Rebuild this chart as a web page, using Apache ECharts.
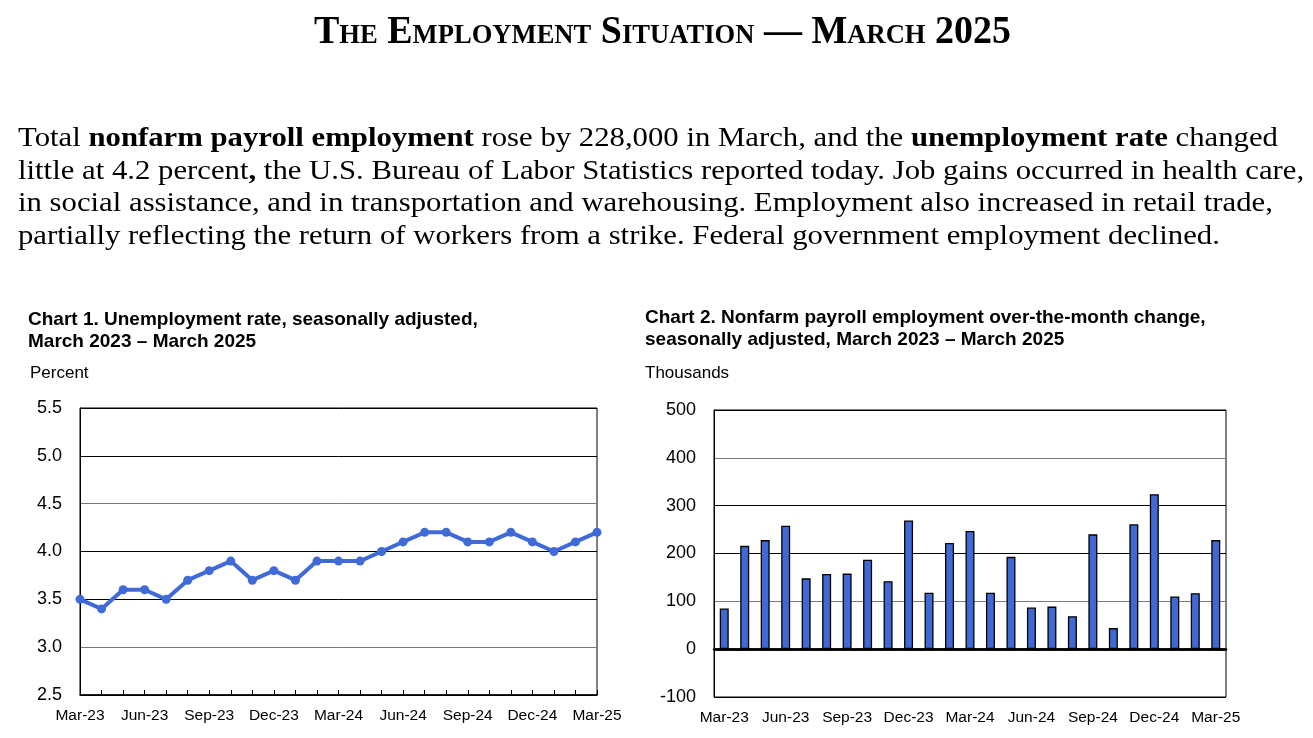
<!DOCTYPE html>
<html><head><meta charset="utf-8">
<script src="https://cdn.jsdelivr.net/npm/echarts@6/dist/echarts.min.js"></script>
<style>
html,body{margin:0;padding:0;background:#fff;width:1313px;height:738px;overflow:hidden;}
#head{position:absolute;left:0;top:0;white-space:nowrap;font-family:"Liberation Serif","Times New Roman",serif;font-weight:bold;font-variant:small-caps;font-size:40px;line-height:40px;transform-origin:0 0;color:#000;}
#para{position:absolute;left:18px;top:121px;font-family:"Liberation Serif","Times New Roman",serif;font-size:28px;line-height:32.6px;color:#000;white-space:nowrap;transform-origin:0 0;}
#chart{position:absolute;left:0;top:0;width:1313px;height:738px;}
</style></head>
<body>
<div id="chart"></div>
<div id="head">The Employment Situation — March 2025</div>
<div id="para"><span id="l1">Total <b>nonfarm payroll employment</b> rose by 228,000 in March, and the <b>unemployment rate</b> changed</span><br>little at 4.2 percent<b>,</b> the U.S. Bureau of Labor Statistics reported today. Job gains occurred in health care,<br>in social assistance, and in transportation and warehousing. Employment also increased in retail trade,<br>partially reflecting the return of workers from a strike. Federal government employment declined.</div>
<script>
const months = ['Mar-23','Apr-23','May-23','Jun-23','Jul-23','Aug-23','Sep-23','Oct-23','Nov-23','Dec-23','Jan-24','Feb-24','Mar-24','Apr-24','May-24','Jun-24','Jul-24','Aug-24','Sep-24','Oct-24','Nov-24','Dec-24','Jan-25','Feb-25','Mar-25'];
const unemploymentRate = [3.5,3.4,3.6,3.6,3.5,3.7,3.8,3.9,3.7,3.8,3.7,3.9,3.9,3.9,4.0,4.1,4.2,4.2,4.1,4.1,4.2,4.1,4.0,4.1,4.2];
const payrollChange = [85,216,228,258,148,157,158,187,142,269,118,222,247,118,193,87,89,69,240,44,261,324,110,117,228];
const rateTicks = [2.5,3.0,3.5,4.0,4.5,5.0,5.5];
const payrollTicks = [-100,0,100,200,300,400,500];

// fit header text
(function(){
  const h=document.getElementById('head');
  const w=h.getBoundingClientRect().width;
  const s=697/w;
  h.style.transform='scale('+s+',1.0)';
  h.style.left=(662-697/2)+'px';
  h.style.top='10px';
  const l1=document.getElementById('l1');
  const pw=l1.getBoundingClientRect().width;
  const p=document.getElementById('para');
  p.style.transform='scaleX('+(1260/pw)+')';
})();

const chart = echarts.init(document.getElementById('chart'), null, {renderer:'canvas'});
const sans = '"Liberation Sans", Arial, sans-serif';
const blue = '#3F6AD8';
chart.setOption({
  animation:false,
  title:[
    {text:'Chart 1. Unemployment rate, seasonally adjusted,\nMarch 2023 – March 2025', left:23, top:304, textStyle:{fontFamily:sans,fontWeight:'bold',fontSize:19,lineHeight:22,color:'#000'}},
    {text:'Chart 2. Nonfarm payroll employment over-the-month change,\nseasonally adjusted, March 2023 – March 2025', left:640, top:302, textStyle:{fontFamily:sans,fontWeight:'bold',fontSize:19,lineHeight:22,color:'#000'}},
    {text:'Percent', left:25, top:360, textStyle:{fontFamily:sans,fontWeight:'normal',fontSize:17,color:'#000'}},
    {text:'Thousands', left:640, top:360, textStyle:{fontFamily:sans,fontWeight:'normal',fontSize:17,color:'#000'}}
  ],
  grid:[
    {left:80, right:716, top:408, bottom:43, show:true, borderColor:'#000', borderWidth:1, containLabel:false},
    {left:714, right:87, top:410, bottom:41, show:true, borderColor:'#000', borderWidth:1, containLabel:false}
  ],
  xAxis:[
    {gridIndex:0, type:'category', data:months, boundaryGap:false,
     axisLine:{lineStyle:{color:'#000',width:1.5}},
     axisTick:{show:true, inside:true, interval:0, length:5, lineStyle:{color:'#000'}},
     axisLabel:{interval:2, color:'#000', fontFamily:sans, fontSize:15.5, margin:13}},
    {gridIndex:1, type:'category', data:months, boundaryGap:true,
     axisLine:{lineStyle:{color:'#000',width:2.5}},
     axisTick:{show:false},
     axisLabel:{interval:2, color:'#000', fontFamily:sans, fontSize:15.5, margin:13}}
  ],
  yAxis:[
    {gridIndex:0, type:'value', min:rateTicks[0], max:rateTicks[rateTicks.length-1], interval:0.5,
     axisLine:{show:true,lineStyle:{color:'#000'}}, axisTick:{show:false},
     axisLabel:{color:'#000', fontFamily:sans, fontSize:18, margin:18, formatter:v=>v.toFixed(1)},
     splitLine:{show:true, lineStyle:{color:['#000','#7a7a7a','#000','#000','#7a7a7a','#000','#000'], width:1}}},
    {gridIndex:1, type:'value', min:payrollTicks[0], max:payrollTicks[payrollTicks.length-1], interval:100,
     axisLine:{show:true,lineStyle:{color:'#000'}}, axisTick:{show:false},
     axisLabel:{color:'#000', fontFamily:sans, fontSize:18, margin:18},
     splitLine:{show:true, lineStyle:{color:['#000','#000','#7a7a7a','#000','#000','#7a7a7a','#000'], width:1}}}
  ],
  series:[
    {type:'line', xAxisIndex:0, yAxisIndex:0, data:unemploymentRate, symbol:'circle', symbolSize:9,
     lineStyle:{color:blue, width:4}, itemStyle:{color:blue}, silent:true},
    {type:'bar', xAxisIndex:1, yAxisIndex:1, data:payrollChange, barWidth:9,
     itemStyle:{color:'#4169D6', borderColor:'#000', borderWidth:1.3}, silent:true,
     markLine:{silent:true, symbol:'none', label:{show:false}, lineStyle:{color:'#000', width:2.5, type:'solid'}, data:[{yAxis:0}]}}
  ]
});
</script>
</body></html>
